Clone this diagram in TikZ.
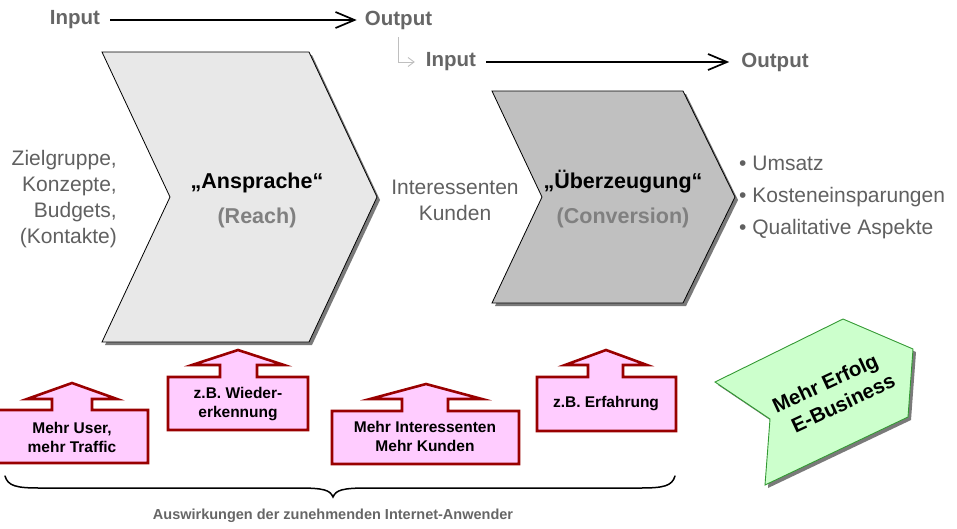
\documentclass[tikz,border=0pt]{standalone}
\usepackage{fontspec}
\setmainfont{Liberation Sans}
\usetikzlibrary{arrows.meta}

\definecolor{iogray}{HTML}{666666}
\definecolor{txtgray}{HTML}{606060}
\definecolor{subgray}{HTML}{808080}
\definecolor{chevlight}{HTML}{E8E8E8}
\definecolor{chevdark}{HTML}{C0C0C0}
\definecolor{shadowgray}{HTML}{7A7A7A}
\definecolor{pinkfill}{HTML}{FFCCFF}
\definecolor{darkred}{HTML}{990000}
\definecolor{greenfill}{HTML}{CCFFCC}
\definecolor{greenline}{HTML}{339933}

\tikzset{
  io/.style={font=\bfseries\fontsize{20.5}{24}\selectfont, text=iogray, inner sep=0pt},
  bigarrow/.style={line width=1.7pt, -{Straight Barb[length=19pt,width=16pt,line width=1.7pt]}},
  lconn/.style={draw=black!25, line width=0.9pt, -{Straight Barb[length=6pt,width=9pt]}},
  chevshadow/.style={fill=shadowgray, draw=none},
  chevbody/.style={draw=black, line width=0.8pt},
  plain/.style={font=\fontsize{21}{26}\selectfont, text=txtgray, inner sep=0pt},
  chevtitle/.style={font=\bfseries\fontsize{21.5}{26}\selectfont, text=black, inner sep=0pt},
  chevsub/.style={font=\bfseries\fontsize{21.5}{26}\selectfont, text=subgray, inner sep=0pt},
  upbox/.style={fill=pinkfill, draw=darkred, line width=2.6pt, line join=miter},
  boxtext/.style={font=\bfseries\fontsize{15.5}{19}\selectfont, text=black, align=center, inner sep=0pt},
  greenbody/.style={fill=greenfill, draw=greenline, line width=0.9pt},
  greentext/.style={font=\bfseries\fontsize{20.5}{22}\selectfont, text=black, inner sep=0pt, rotate=25},
  bracepath/.style={line width=1.5pt, line cap=round},
}

% box with an upward arrow on top:
% #1 left, #2 right, #3 top, #4 bottom, #5 shaft left, #6 shaft right,
% #7 head base, #8 wing left, #9 wing right; the tip is (\tipx,\tipy)
\newcommand{\upboxpath}[9]{%
  \draw[upbox] (#1,#3) -- (#5,#3) -- (#5,#7) -- (#8,#7) -- (\tipx,\tipy)
    -- (#9,#7) -- (#6,#7) -- (#6,#3) -- (#2,#3) -- (#2,#4) -- (#1,#4) -- cycle;}

\begin{document}
\begin{tikzpicture}[x=1pt, y=-1pt]
\useasboundingbox (0,0) rectangle (957,528);

% ---- input / output flow ----
\node[io] (in1) at (75,20) {Input};
\node[io] (out1) at (398.5,20) {Output};
\node[io] (in2) at (451,62) {Input};
\node[io] (out2) at (775,62) {Output};
\draw[bigarrow] ([xshift=10pt]in1.east) -- ([xshift=-8pt]out1.west);
\draw[bigarrow] ([xshift=10pt]in2.east) -- ([xshift=-12pt]out2.west);
\draw[lconn] ([yshift=-8pt]out1.south) |- ([xshift=-11pt]in2.west);

% ---- chevron 1: Ansprache ----
\fill[chevshadow, shift={(3,3)}] (102,52) -- (309,52) -- (377,197) -- (309,342) -- (102,342) -- (170,197) -- cycle;
\filldraw[chevbody, fill=chevlight] (102,52) -- (309,52) -- (377,197) -- (309,342) -- (102,342) -- (170,197) -- cycle;
\node[chevtitle] (t1) at (257,183) {„Ansprache“};
\node[chevsub] (s1) at (257,218) {(Reach)};

% ---- chevron 2: Überzeugung ----
\fill[chevshadow, shift={(3,3)}] (492,91) -- (683,91) -- (735,197) -- (683,303) -- (492,303) -- (542,197) -- cycle;
\filldraw[chevbody, fill=chevdark] (492,91) -- (683,91) -- (735,197) -- (683,303) -- (492,303) -- (542,197) -- cycle;
\node[chevtitle] (t2) at (623,182) {„Überzeugung“};
\node[chevsub] (s2) at (623,218) {(Conversion)};

% ---- side texts ----
\node[plain, align=right, anchor=east] (left) at (117,199)
  {Zielgruppe,\\Konzepte,\\Budgets,\\(Kontakte)};
\node[plain, align=center] (mid) at (455,200) {Interessenten\\Kunden};
\node[plain, font=\fontsize{21}{32}\selectfont, align=left, anchor=west] (bul) at (739,197.5)
  {• Umsatz\\• Kosteneinsparungen\\• Qualitative Aspekte};

% ---- pink boxes with arrows ----
\def\tipx{72}\def\tipy{383}
\upboxpath{-3}{148}{410}{463}{52}{92}{399}{27}{117}
\node[boxtext] (b1) at (72,437.5) {Mehr User,\\mehr Traffic};

\def\tipx{238}\def\tipy{350}
\upboxpath{168}{308}{377}{430}{220}{257}{365}{192}{284}
\node[boxtext] (b2) at (238,404) {z.B. Wieder-\\erkennung};

\def\tipx{426}\def\tipy{384}
\upboxpath{332}{519}{411}{464}{402}{448}{399}{370}{482}
\node[boxtext] (b3) at (425,436.5) {Mehr Interessenten\\Mehr Kunden};

\def\tipx{606}\def\tipy{350}
\upboxpath{537}{676}{377}{431}{588}{623}{365}{565}{647}
\node[boxtext] (b4) at (606,403.5) {z.B. Erfahrung};

% ---- green result shape ----
\fill[chevshadow, shift={(3,3)}] (715,382) -- (843,319) -- (913,349) -- (908,417) -- (765,485) -- (770,419) -- cycle;
\filldraw[greenbody] (715,382) -- (843,319) -- (913,349) -- (908,417) -- (765,485) -- (770,419) -- cycle;
\node[greentext] (res1) at (826,385) {Mehr Erfolg};
\node[greentext] (res2) at (843,403) {E-Business};

% ---- brace and caption ----
\draw[bracepath] (5,476) .. controls (8,486) and (16,488) .. (40,488) -- (298,488)
  .. controls (324,488) and (330,490) .. (333,497)
  .. controls (336,490) and (342,488) .. (368,488) -- (640,488)
  .. controls (664,488) and (672,486) .. (675,476);
\node[font=\bfseries\fontsize{14.5}{17}\selectfont, text=iogray, inner sep=0pt] (cap) at (333,516)
  {Auswirkungen der zunehmenden Internet-Anwender};
\end{tikzpicture}
\end{document}
